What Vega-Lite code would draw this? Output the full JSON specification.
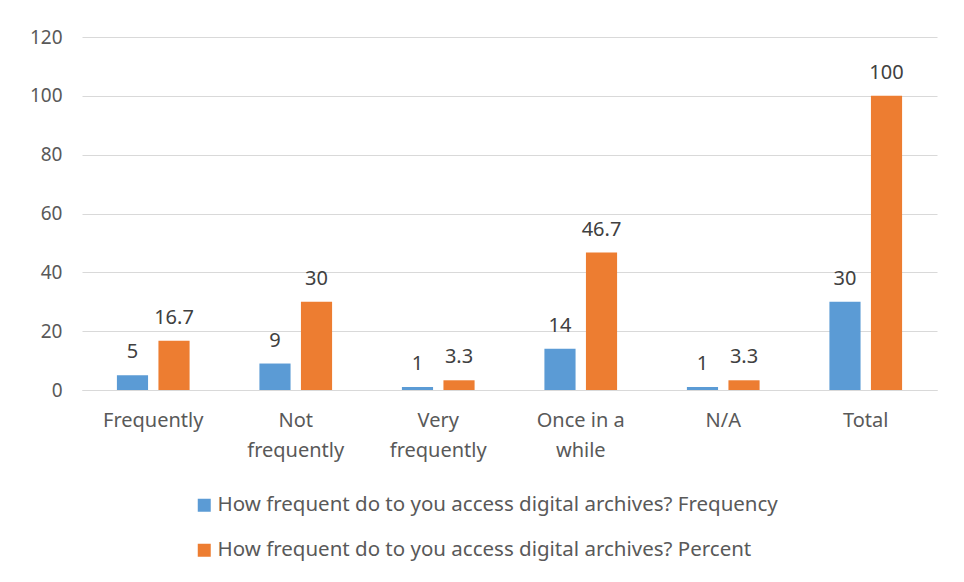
{
  "$schema": "https://vega.github.io/schema/vega-lite/v6.json",
  "width": 855,
  "height": 353,
  "autosize": {"type": "none"},
  "padding": {"left": 82, "top": 37, "right": 27, "bottom": 192},
  "background": "white",
  "config": {
    "view": {"stroke": null},
    "font": "Noto Sans"
  },
  "data": {
    "values": [
      {"cat": "Frequently", "series": "How frequent do to you access digital archives? Frequency", "value": 5, "lab": "5"},
      {"cat": "Frequently", "series": "How frequent do to you access digital archives? Percent", "value": 16.7, "lab": "16.7"},
      {"cat": "Not frequently", "series": "How frequent do to you access digital archives? Frequency", "value": 9, "lab": "9"},
      {"cat": "Not frequently", "series": "How frequent do to you access digital archives? Percent", "value": 30, "lab": "30"},
      {"cat": "Very frequently", "series": "How frequent do to you access digital archives? Frequency", "value": 1, "lab": "1"},
      {"cat": "Very frequently", "series": "How frequent do to you access digital archives? Percent", "value": 3.3, "lab": "3.3"},
      {"cat": "Once in a while", "series": "How frequent do to you access digital archives? Frequency", "value": 14, "lab": "14"},
      {"cat": "Once in a while", "series": "How frequent do to you access digital archives? Percent", "value": 46.7, "lab": "46.7"},
      {"cat": "N/A", "series": "How frequent do to you access digital archives? Frequency", "value": 1, "lab": "1"},
      {"cat": "N/A", "series": "How frequent do to you access digital archives? Percent", "value": 3.3, "lab": "3.3"},
      {"cat": "Total", "series": "How frequent do to you access digital archives? Frequency", "value": 30, "lab": "30"},
      {"cat": "Total", "series": "How frequent do to you access digital archives? Percent", "value": 100, "lab": "100"}
    ]
  },
  "encoding": {
    "x": {
      "field": "cat",
      "type": "nominal",
      "sort": ["Frequently", "Not frequently", "Very frequently", "Once in a while", "N/A", "Total"],
      "scale": {"paddingInner": 0.49, "paddingOuter": 0.245},
      "axis": {
        "title": null,
        "labelAngle": 0,
        "labelFontSize": 20,
        "labelColor": "#595959",
        "labelPadding": 20,
        "labelLineHeight": 30,
        "labelExpr": "datum.label == 'Not frequently' ? ['Not', 'frequently'] : datum.label == 'Very frequently' ? ['Very', 'frequently'] : datum.label == 'Once in a while' ? ['Once in a', 'while'] : datum.label",
        "ticks": false,
        "domainColor": "#d9d9d9",
        "grid": false
      }
    },
    "xOffset": {
      "field": "series",
      "type": "nominal",
      "scale": {"paddingInner": 0.25}
    },
    "y": {
      "field": "value",
      "type": "quantitative",
      "scale": {"domain": [0, 120]},
      "axis": {
        "title": null,
        "values": [0, 20, 40, 60, 80, 100, 120],
        "labelFontSize": 19,
        "labelColor": "#595959",
        "labelPadding": 20,
        "ticks": false,
        "domain": false,
        "gridColor": "#d9d9d9",
        "gridWidth": 1
      }
    }
  },
  "layer": [
    {
      "mark": {"type": "bar"},
      "encoding": {
        "color": {
          "field": "series",
          "type": "nominal",
          "scale": {"range": ["#5B9BD5", "#ED7D31"]},
          "legend": {
            "title": null,
            "orient": "none",
            "legendX": 112,
            "legendY": 458,
            "direction": "vertical",
            "symbolType": "square",
            "symbolSize": 169,
            "symbolStrokeWidth": 0,
            "labelFontSize": 20.5,
            "labelColor": "#595959",
            "labelLimit": 800,
            "rowPadding": 24,
            "labelOffset": 3
          }
        }
      }
    },
    {
      "mark": {"type": "text", "baseline": "bottom", "dy": -13, "fontSize": 20, "color": "#404040"},
      "encoding": {
        "text": {"field": "lab", "type": "nominal"}
      }
    }
  ]
}
